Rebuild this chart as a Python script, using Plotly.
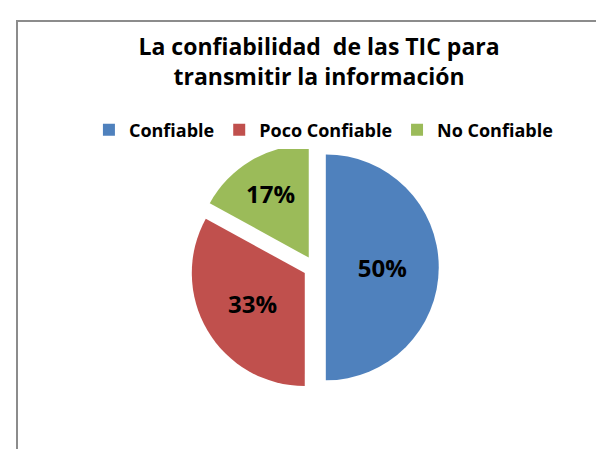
import plotly.graph_objects as go

categories = ["Confiable", "Poco Confiable", "No Confiable"]
values = [50, 33, 17]
colors = ["#4F81BD", "#C0504D", "#9BBB59"]

fig = go.Figure(go.Pie(
    labels=categories,
    values=values,
    sort=False,
    direction="clockwise",
    rotation=0,
    pull=[0.1, 0.1, 0.1],
    marker=dict(colors=colors, line=dict(width=0)),
    texttemplate="<b>%{percent}</b>",
    textposition="inside",
    insidetextfont=dict(size=24, color="black", family="Open Sans"),
    domain=dict(x=[0.02, 0.98], y=[0.15, 0.72]),
    hoverinfo="label+percent",
))

fig.update_layout(
    width=604, height=449,
    margin=dict(l=9, r=0, t=13, b=0),
    paper_bgcolor="white",
    plot_bgcolor="white",
    font=dict(family="Open Sans", color="black"),
    title=dict(
        text="<b>La confiabilidad  de las TIC para<br>transmitir la información</b>",
        x=0.515, xanchor="center", y=0.895, yanchor="middle",
        font=dict(size=23, family="Open Sans", color="black"),
    ),
    legend=dict(
        orientation="h", x=0.515, xanchor="center", y=0.75, yanchor="middle",
        font=dict(size=18, family="Open Sans", color="black", weight="bold"),
        itemwidth=30, traceorder="normal",
    ),
    shapes=[dict(type="rect", xref="paper", yref="paper", x0=0, y0=-0.02, x1=1.02, y1=1.0,
                 line=dict(color="#8c8c8c", width=2))],
)

fig.write_html("out.html")
